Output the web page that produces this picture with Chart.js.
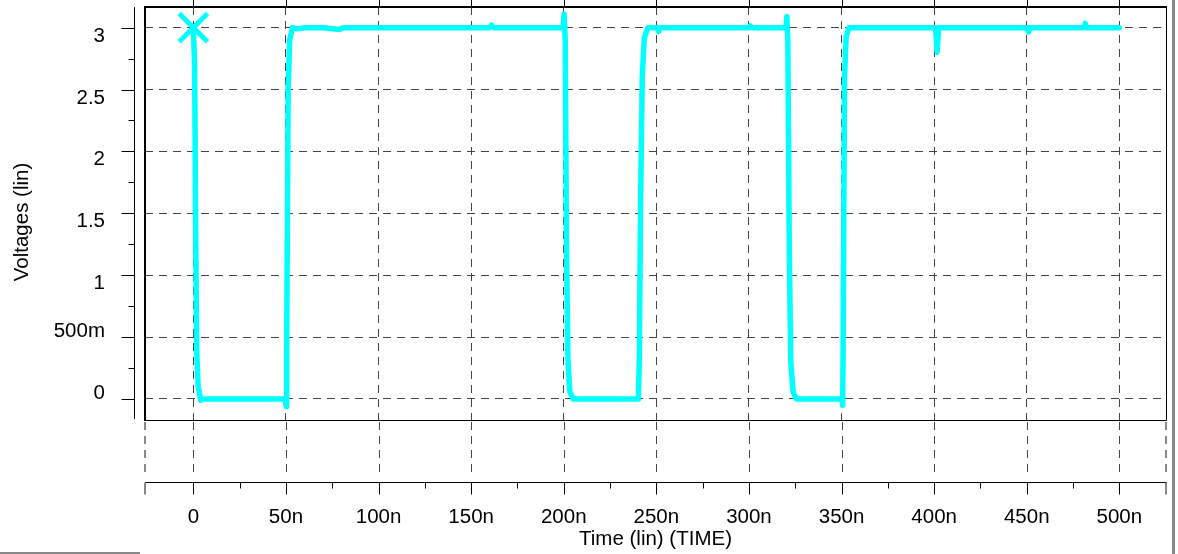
<!DOCTYPE html>
<html lang="en">
<head>
<meta charset="UTF-8">
<title>Voltages (lin) vs Time (lin)</title>
<script src="https://cdn.jsdelivr.net/npm/chart.js@4.4.1/dist/chart.umd.min.js"></script>
<style>
    html, body { margin: 0; padding: 0; background: #fff; }
    #wrap { width: 1178px; height: 554px; position: relative; }
</style>
</head>
<body>
<div id="wrap"><canvas id="wave"></canvas></div>
<script>
// trace: time in ns, voltage in V
const timeNs = [0, 0.7, 1.2, 1.8, 2.6, 4.0, 5.5, 30, 49.6, 50.1, 50.4, 51.2, 52.0, 53.5, 56, 60, 70, 79, 81,
    120, 160, 161, 162, 199.6, 200.2, 200.8, 201.5, 202.3, 203.3, 205, 240.3, 240.8, 241.5, 242.4, 243.5,
    245.5, 250.5, 251.2, 252, 280, 300, 300.7, 301.5, 320, 320.5, 321, 321.8, 322.6, 323.8, 325.5, 350.3,
    350.6, 350.9, 351.6, 352.5, 354, 400.8, 401.6, 402.4, 450.4, 451, 451.6, 481, 481.6, 482.2, 500];
const volts = [3.0, 2.7, 1.5, 0.4, 0.1, -0.01, 0.0, 0.0, 0.0, -0.06, 0.4, 2.5, 2.9, 3.0, 2.99, 3.0, 3.0, 2.985, 3.0,
    3.0, 3.0, 3.02, 3.0, 3.0, 3.11, 2.9, 1.2, 0.3, 0.06, 0.0, 0.0, 0.3, 1.6, 2.6, 2.92,
    3.0, 3.0, 2.97, 3.0, 3.0, 3.0, 3.015, 3.0, 3.0, 3.09, 2.9, 1.2, 0.3, 0.06, 0.0, 0.0,
    -0.05, 0.5, 2.6, 2.93, 3.0, 3.0, 2.8, 3.0, 3.0, 2.965, 3.0, 3.0, 3.035, 3.0, 3.0];

// cursor marker at the start of the trace
const markerTime = [0];
const markerVolts = [3];

const xTickValues = [0, 50, 100, 150, 200, 250, 300, 350, 400, 450, 500];
const xTickLabels = ['0', '50n', '100n', '150n', '200n', '250n', '300n', '350n', '400n', '450n', '500n'];
const yTickValues = [0, 0.5, 1, 1.5, 2, 2.5, 3];
const yTickLabels = ['0', '500m', '1', '1.5', '2', '2.5', '3'];

const FONT = '"Liberation Sans", Arial, Helvetica, sans-serif';
const FSIZE = 20.5;
const DASH = [8, 6];
const CYAN = '#00ffff';

const tracePoints = timeNs.map((t, i) => ({ x: t, y: volts[i] }));
const markerPoints = markerTime.map((t, i) => ({ x: t, y: markerVolts[i] }));

// frame, detached y axis, lower time axis strip and ticks
const axisDecor = {
    id: 'axisDecor',
    afterDraw(chart) {
        const { ctx, chartArea: a, scales: { x, y } } = chart;
        ctx.save();

        // plot frame: heavy top/left, thin right/bottom
        ctx.strokeStyle = '#000';
        ctx.lineWidth = 2;
        ctx.beginPath();
        ctx.moveTo(a.left, a.bottom + 1);
        ctx.lineTo(a.left, a.top);
        ctx.lineTo(a.right + 1, a.top);
        ctx.stroke();
        ctx.lineWidth = 1;
        ctx.beginPath();
        ctx.moveTo(a.right + 0.5, a.top);
        ctx.lineTo(a.right + 0.5, a.bottom + 0.5);
        ctx.lineTo(a.left, a.bottom + 0.5);
        ctx.stroke();

        // ticks above the top frame
        ctx.beginPath();
        xTickValues.forEach(v => {
            const px = Math.round(x.getPixelForValue(v)) + 0.5;
            ctx.moveTo(px, 0);
            ctx.lineTo(px, a.top - 1);
        });
        ctx.stroke();

        // detached y axis
        const yAxisX = a.left - 10.5;
        ctx.beginPath();
        ctx.moveTo(yAxisX, a.top);
        ctx.lineTo(yAxisX, a.bottom - 1);
        yTickValues.forEach(v => {
            const py = Math.round(y.getPixelForValue(v)) + 0.5;
            ctx.moveTo(yAxisX - 13, py);
            ctx.lineTo(yAxisX, py);
            const pm = Math.round(y.getPixelForValue(v + 0.25)) + 0.5;
            if (v + 0.25 < y.max) {
                ctx.moveTo(yAxisX - 6, pm);
                ctx.lineTo(yAxisX, pm);
            }
        });
        ctx.stroke();

        // y tick labels: upper ones hang below the tick, lower ones sit on it
        ctx.fillStyle = '#000';
        ctx.font = FSIZE + 'px ' + FONT;
        ctx.textAlign = 'right';
        ctx.textBaseline = 'alphabetic';
        yTickValues.forEach((v, i) => {
            const py = y.getPixelForValue(v);
            const base = v >= 1 ? py + 14 : py;
            ctx.fillText(yTickLabels[i], 105, base);
        });

        // y title
        ctx.save();
        ctx.translate(22, 222);
        ctx.rotate(-Math.PI / 2);
        ctx.textAlign = 'center';
        ctx.textBaseline = 'middle';
        ctx.fillText('Voltages (lin)', 0, 0);
        ctx.restore();

        // dashed strip below the plot
        const stripTop = a.bottom + 2, stripBottom = a.bottom + 58;
        ctx.setLineDash(DASH);
        ctx.strokeStyle = '#444';
        ctx.beginPath();
        xTickValues.forEach(v => {
            const px = Math.round(x.getPixelForValue(v)) + 0.5;
            ctx.moveTo(px, stripTop);
            ctx.lineTo(px, stripBottom);
        });
        ctx.stroke();
        ctx.strokeStyle = '#888';
        ctx.lineWidth = 2;
        ctx.beginPath();
        ctx.moveTo(a.left, stripTop);
        ctx.lineTo(a.left, stripBottom);
        ctx.moveTo(a.right, stripTop);
        ctx.lineTo(a.right, stripBottom);
        ctx.stroke();
        ctx.setLineDash([]);

        // lower time axis
        const axisY = a.bottom + 62.5;
        ctx.strokeStyle = '#000';
        ctx.lineWidth = 1;
        ctx.beginPath();
        ctx.moveTo(a.left, axisY);
        ctx.lineTo(a.right + 1, axisY);
        xTickValues.forEach(v => {
            const px = Math.round(x.getPixelForValue(v)) + 0.5;
            ctx.moveTo(px, axisY);
            ctx.lineTo(px, axisY + 12);
            if (v + 25 < x.max) {
                const pm = Math.round(x.getPixelForValue(v + 25)) + 0.5;
                ctx.moveTo(pm, axisY);
                ctx.lineTo(pm, axisY + 6);
            }
        });
        ctx.stroke();
        ctx.strokeStyle = '#888';
        ctx.lineWidth = 2;
        ctx.beginPath();
        ctx.moveTo(a.left, axisY);
        ctx.lineTo(a.left, axisY + 12);
        ctx.moveTo(a.right, axisY);
        ctx.lineTo(a.right, axisY + 12);
        ctx.stroke();

        // window edges
        ctx.fillStyle = '#888';
        ctx.fillRect(1172, 0, 3, chart.height);
        ctx.fillRect(0, 552, 140, 2);

        ctx.restore();
    }
};

new Chart(document.getElementById('wave'), {
    type: 'line',
    data: {
        datasets: [{
            label: 'marker',
            data: markerPoints,
            showLine: false,
            pointStyle: 'crossRot',
            pointRadius: 20,
            pointBorderWidth: 5,
            pointBorderColor: CYAN,
            pointBackgroundColor: CYAN,
            order: 0
        }, {
            label: 'V',
            data: tracePoints,
            borderColor: CYAN,
            borderWidth: 5.5,
            borderJoinStyle: 'round',
            borderCapStyle: 'round',
            tension: 0,
            pointRadius: 0,
            fill: false,
            order: 1
        }]
    },
    options: {
        responsive: true,
        maintainAspectRatio: false,
        animation: false,
        events: [],
        layout: { padding: { left: 0, top: 7, right: 12, bottom: 0 }, autoPadding: false },
        plugins: { legend: { display: false }, tooltip: { enabled: false } },
        scales: {
            x: {
                type: 'linear',
                min: -26.1,
                max: 525.2,
                afterBuildTicks: s => { s.ticks = xTickValues.map(v => ({ value: v })); },
                afterFit: s => {
                    s.height = 134;
                    s.paddingLeft = 0;
                    s.paddingRight = 0;
                },
                grid: { color: '#444', lineWidth: 1, drawTicks: false },
                border: { display: false, dash: DASH },
                ticks: {
                    autoSkip: false,
                    maxRotation: 0,
                    padding: 85,
                    color: '#000',
                    font: { family: FONT, size: FSIZE },
                    callback: v => {
                        const i = xTickValues.indexOf(v);
                        return i >= 0 ? xTickLabels[i] : '';
                    }
                },
                title: {
                    display: true,
                    text: 'Time (lin) (TIME)',
                    color: '#000',
                    font: { family: FONT, size: FSIZE },
                    padding: { top: 0, bottom: 2 }
                }
            },
            y: {
                type: 'linear',
                min: -0.17,
                max: 3.167,
                afterBuildTicks: s => { s.ticks = yTickValues.map(v => ({ value: v })); },
                afterFit: s => { s.width = 145; },
                grid: { color: '#444', lineWidth: 1, drawTicks: false },
                border: { display: false, dash: DASH },
                ticks: { display: false }
            }
        }
    },
    plugins: [axisDecor]
});
</script>
</body>
</html>
